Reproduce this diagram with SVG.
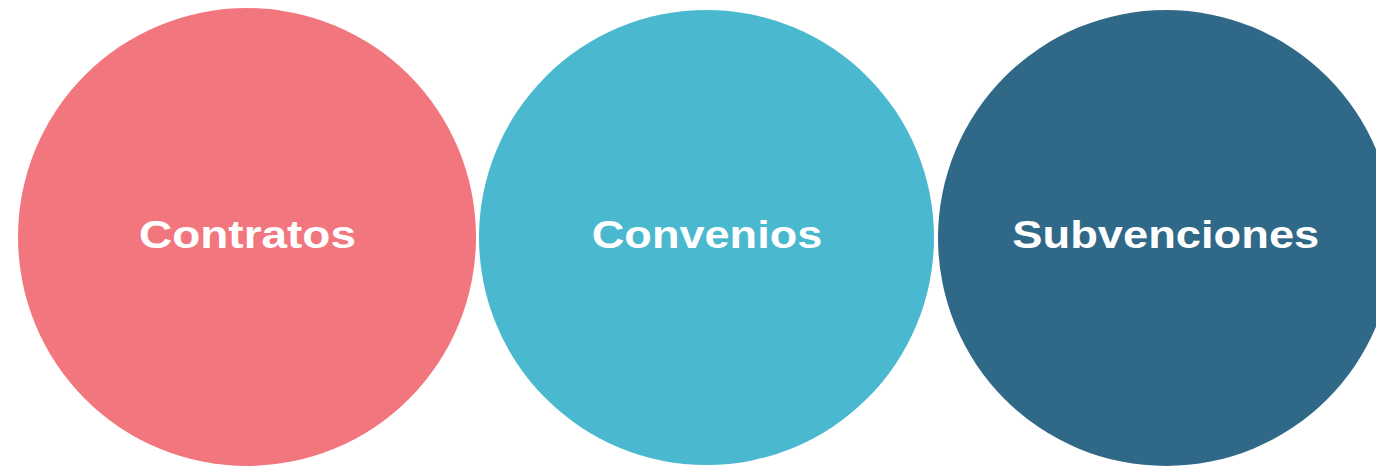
<svg xmlns="http://www.w3.org/2000/svg" width="1376" height="467" viewBox="0 0 1376 467">
<style>
.lbl{font-family:"Liberation Sans",Arial,sans-serif;font-weight:bold;font-size:39.5px;fill:#ffffff}
</style>
<rect width="1376" height="467" fill="#ffffff"/>
<g id="node-contratos">
<circle cx="247" cy="237" r="229" fill="#F2767D"/>
<text class="lbl" x="139" y="247.5" textLength="217" lengthAdjust="spacingAndGlyphs">Contratos</text>
</g>
<g id="node-convenios">
<circle cx="706.5" cy="237.5" r="227.5" fill="#4AB8CE"/>
<text class="lbl" x="591.8" y="247.5" textLength="230.5" lengthAdjust="spacingAndGlyphs">Convenios</text>
</g>
<g id="node-subvenciones">
<circle cx="1166" cy="238" r="228" fill="#306888"/>
<text class="lbl" x="1012.3" y="247.5" textLength="307" lengthAdjust="spacingAndGlyphs">Subvenciones</text>
</g>
<g id="connectors"></g>
</svg>
